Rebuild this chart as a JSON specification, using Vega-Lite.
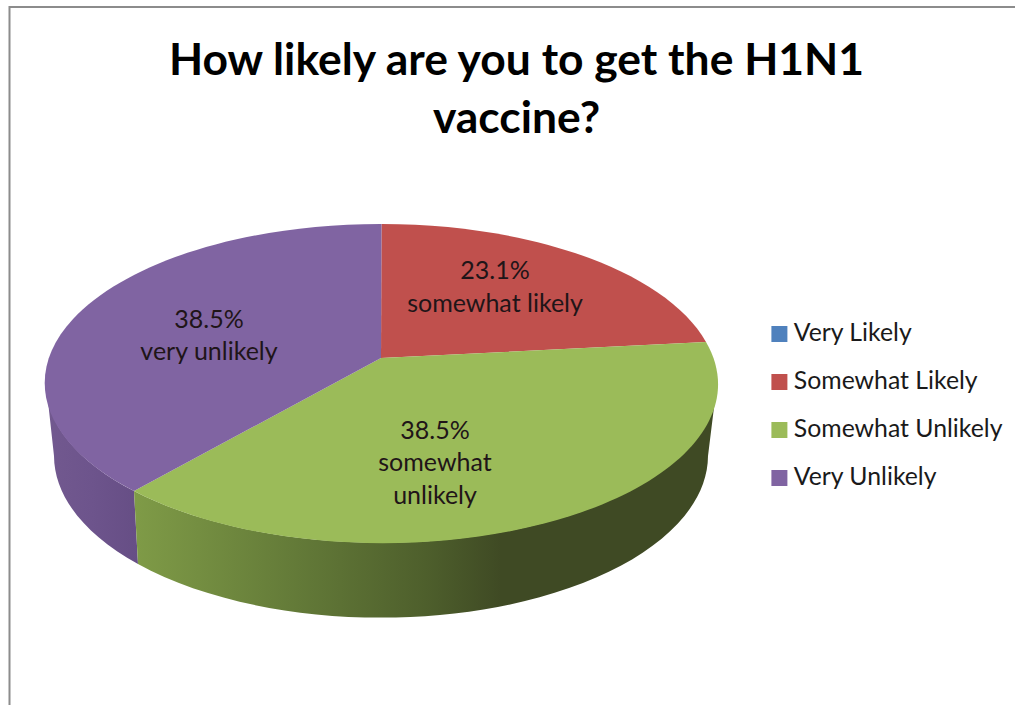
{
  "$schema": "https://vega.github.io/schema/vega-lite/v6.json",
  "width": 1015,
  "height": 705,
  "padding": 0,
  "autosize": "none",
  "background": "white",
  "view": {"stroke": null},
  "title": {
    "text": ["How likely are you to get the H1N1", "vaccine?"],
    "orient": "top",
    "anchor": "middle",
    "frame": "group",
    "align": "center",
    "font": "Lato",
    "fontSize": 44.4,
    "fontWeight": "bold",
    "color": "#000000",
    "lineHeight": 58,
    "dx": 9,
    "dy": 146
  },
  "datasets": {
    "responses": [
      {"response": "Very Likely", "share": 0, "caption": ""},
      {"response": "Somewhat Likely", "share": 23.1, "caption": "23.1%\nsomewhat likely"},
      {"response": "Somewhat Unlikely", "share": 38.5, "caption": "38.5%\nsomewhat\nunlikely"},
      {"response": "Very Unlikely", "share": 38.5, "caption": "38.5%\nvery unlikely"}
    ]
  },
  "data": {"name": "responses"},
  "layer": [
    {
      "data": {"values": [{"part": "chart frame"}]},
      "mark": {
        "type": "point",
        "shape": "M-498 352.5 L-498 -345.5 L507.5 -345.5",
        "size": 4,
        "filled": false,
        "fill": null,
        "stroke": "#8c8c8c",
        "strokeWidth": 2,
        "opacity": 1
      }
    },
    {
      "mark": {"type": "point", "shape": "square", "size": 4, "filled": true, "opacity": 1},
      "encoding": {
        "color": {
          "field": "response",
          "type": "nominal",
          "scale": {
            "domain": ["Very Likely", "Somewhat Likely", "Somewhat Unlikely", "Very Unlikely"],
            "range": ["#4f81bd", "#c0504d", "#9bbb59", "#8064a2"]
          },
          "legend": {
            "title": null,
            "orient": "none",
            "legendX": 767,
            "legendY": 322,
            "symbolType": "square",
            "symbolSize": 256,
            "symbolStrokeWidth": 0,
            "symbolOpacity": 1,
            "labelFont": "Lato",
            "labelFontSize": 24.8,
            "labelColor": "#1a1a1a",
            "labelOffset": 2,
            "labelLimit": 260,
            "clipHeight": 24,
            "rowPadding": 23,
            "padding": 0
          }
        }
      }
    },
    {
      "transform": [{"filter": "datum.response === 'Very Unlikely'"}],
      "mark": {
        "type": "point",
        "shape": "M-461.5 30.5 L-453.5 103.5 A327 162 0 0 0 -369.5 211.5 L-373.5 138.5 A335.5 159 0 0 1 -461.5 30.5 Z",
        "size": 4,
        "filled": true,
        "opacity": 1,
        "fill": {
          "gradient": "linear", "x1": 0, "x2": 1, "y1": 0, "y2": 0,
          "stops": [
            {"offset": 0, "color": "#72598f"},
            {"offset": 0.5, "color": "#6d548c"},
            {"offset": 1, "color": "#664e85"}
          ]
        }
      }
    },
    {
      "transform": [{"filter": "datum.response === 'Somewhat Unlikely'"}],
      "mark": {
        "type": "point",
        "shape": "M209.5 30.5 L200.5 103.5 A327 162 0 0 1 -369.5 211.5 L-373.5 138.5 A335.5 159 0 0 0 209.5 30.5 Z",
        "size": 4,
        "filled": true,
        "opacity": 1,
        "fill": {
          "gradient": "linear", "x1": 0, "x2": 1, "y1": 0, "y2": 0,
          "stops": [
            {"offset": 0, "color": "#7f9b47"},
            {"offset": 0.28, "color": "#637a38"},
            {"offset": 0.5, "color": "#4e5f2c"},
            {"offset": 0.63, "color": "#3f4a24"},
            {"offset": 1, "color": "#3f4a24"}
          ]
        }
      }
    },
    {
      "transform": [{"filter": "datum.share > 0"}],
      "mark": {"type": "point", "size": 4, "filled": true, "opacity": 1},
      "encoding": {
        "shape": {
          "field": "response",
          "type": "nominal",
          "legend": null,
          "scale": {
            "domain": ["Somewhat Likely", "Somewhat Unlikely", "Very Unlikely"],
            "range": [
              "M-126.5 5.5 L-126 -128.5 A335.5 159 0 0 1 198.5 -10.5 Z",
              "M-126.5 5.5 L198.5 -10.5 A335.5 159 0 0 1 -373.5 138.5 Z",
              "M-126.5 5.5 L-373.5 138.5 A335.5 159 0 0 1 -126 -128.5 Z"
            ]
          }
        },
        "fill": {
          "field": "response",
          "type": "nominal",
          "legend": null,
          "scale": {
            "domain": ["Somewhat Likely", "Somewhat Unlikely", "Very Unlikely"],
            "range": ["#c0504d", "#9bbb59", "#8064a2"]
          }
        }
      }
    },
    {
      "transform": [{"filter": "datum.response === 'Somewhat Likely'"}],
      "mark": {"type": "text", "font": "Lato", "fontSize": 25, "color": "#1f1518", "lineBreak": "\n", "lineHeight": 32.5, "baseline": "middle", "align": "center", "dx": -12.5, "dy": -81.5},
      "encoding": {"text": {"field": "caption", "type": "nominal"}}
    },
    {
      "transform": [{"filter": "datum.response === 'Somewhat Unlikely'"}],
      "mark": {"type": "text", "font": "Lato", "fontSize": 25, "color": "#1f1518", "lineBreak": "\n", "lineHeight": 32.5, "baseline": "middle", "align": "center", "dx": -72.5, "dy": 78},
      "encoding": {"text": {"field": "caption", "type": "nominal"}}
    },
    {
      "transform": [{"filter": "datum.response === 'Very Unlikely'"}],
      "mark": {"type": "text", "font": "Lato", "fontSize": 25, "color": "#1f1518", "lineBreak": "\n", "lineHeight": 32.5, "baseline": "middle", "align": "center", "dx": -298.5, "dy": -33},
      "encoding": {"text": {"field": "caption", "type": "nominal"}}
    }
  ]
}
